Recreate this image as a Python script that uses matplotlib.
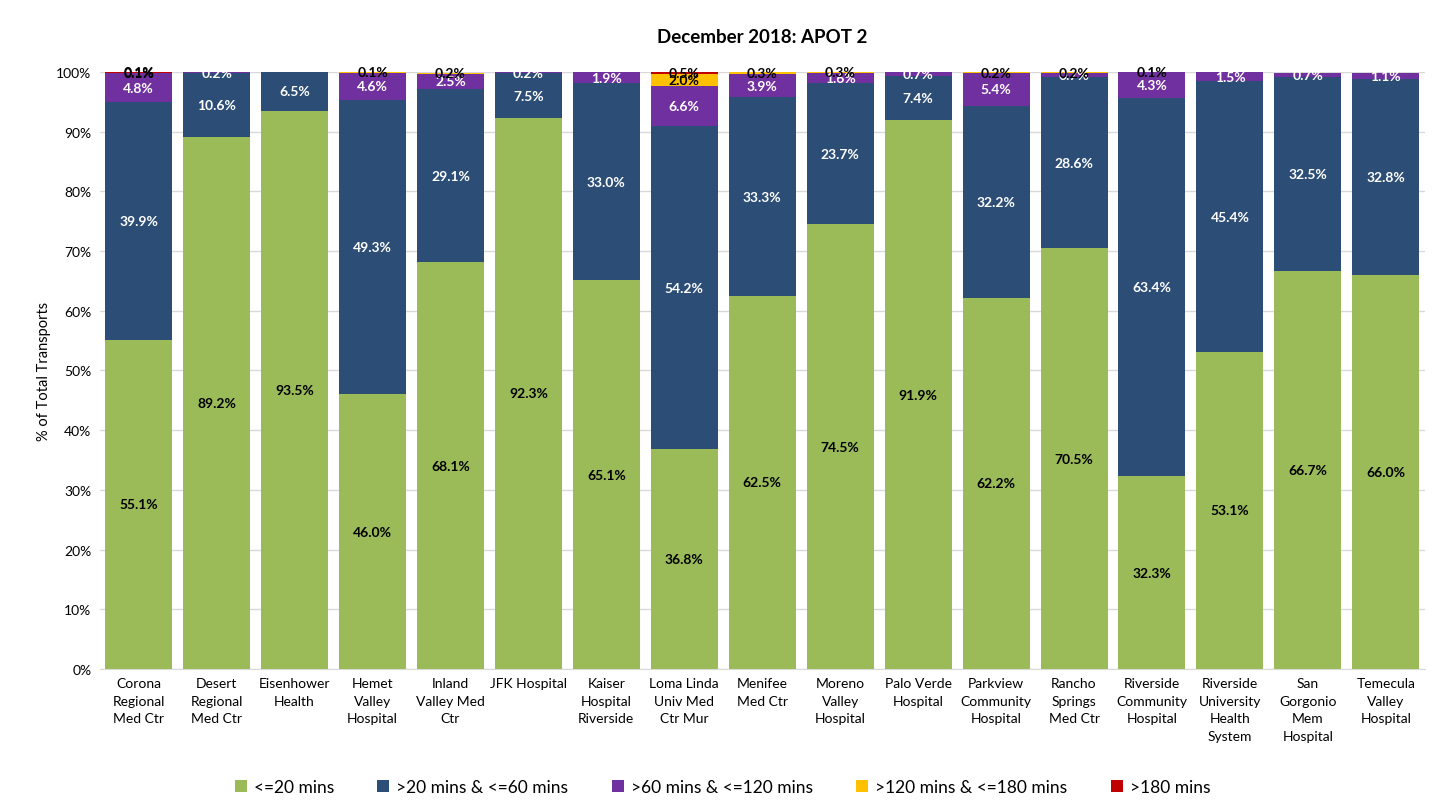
import matplotlib.pyplot as plt
import numpy as np

plt.rcParams["font.family"] = ["Lato", "DejaVu Sans"]

HOSPITALS = [
    "Corona\nRegional\nMed Ctr", "Desert\nRegional\nMed Ctr", "Eisenhower\nHealth",
    "Hemet\nValley\nHospital", "Inland\nValley Med\nCtr", "JFK Hospital",
    "Kaiser\nHospital\nRiverside", "Loma Linda\nUniv Med\nCtr Mur", "Menifee\nMed Ctr",
    "Moreno\nValley\nHospital", "Palo Verde\nHospital", "Parkview\nCommunity\nHospital",
    "Rancho\nSprings\nMed Ctr", "Riverside\nCommunity\nHospital",
    "Riverside\nUniversity\nHealth\nSystem", "San\nGorgonio\nMem\nHospital",
    "Temecula\nValley\nHospital",
]

LE_20 = [55.1, 89.2, 93.5, 46.0, 68.1, 92.3, 65.1, 36.8, 62.5, 74.5, 91.9, 62.2, 70.5, 32.3, 53.1, 66.7, 66.0]
GT20_LE60 = [39.9, 10.6, 6.5, 49.3, 29.1, 7.5, 33.0, 54.2, 33.3, 23.7, 7.4, 32.2, 28.6, 63.4, 45.4, 32.5, 32.8]
GT60_LE120 = [4.8, 0.2, 0.0, 4.6, 2.5, 0.2, 1.9, 6.6, 3.9, 1.6, 0.7, 5.4, 0.7, 4.3, 1.5, 0.7, 1.1]
GT120_LE180 = [0.1, 0.0, 0.0, 0.1, 0.2, 0.0, 0.0, 2.0, 0.3, 0.3, 0.0, 0.2, 0.2, 0.1, 0.0, 0.0, 0.0]
GT180 = [0.1, 0.0, 0.0, 0.0, 0.0, 0.0, 0.0, 0.5, 0.0, 0.0, 0.0, 0.0, 0.0, 0.0, 0.0, 0.0, 0.0]

SERIES = [
    ("<=20 mins", LE_20, "#9BBB59", "black"),
    (">20 mins & <=60 mins", GT20_LE60, "#2C4D75", "white"),
    (">60 mins & <=120 mins", GT60_LE120, "#7030A0", "white"),
    (">120 mins & <=180 mins", GT120_LE180, "#FFC000", "black"),
    (">180 mins", GT180, "#C00000", "black"),
]

fig = plt.figure(figsize=(14.45, 8.12), dpi=100)
ax = fig.add_axes([0.069, 0.175, 0.917, 0.735])

x = np.arange(len(HOSPITALS))
bottom = np.zeros(len(HOSPITALS))
for name, vals, color, tcolor in SERIES:
    vals = np.array(vals)
    ax.bar(x, vals, 0.86, bottom=bottom, color=color, label=name, zorder=3)
    for xi, b, v in zip(x, bottom, vals):
        if v > 0:
            ax.text(xi, b + v / 2, f"{v:.1f}%", ha="center", va="center",
                    color=tcolor, fontsize=10, fontweight="bold", zorder=4)
    bottom += vals

ax.set_xlim(-0.5, len(HOSPITALS) - 0.5)
ax.set_ylim(0, 100)
ax.set_yticks(np.arange(0, 101, 10))
ax.set_yticklabels([f"{t}%" for t in range(0, 101, 10)], fontsize=10)
ax.set_xticks(x)
ax.set_xticklabels(HOSPITALS, fontsize=10, va="top", linespacing=1.55)
ax.tick_params(length=0, pad=6)
ax.yaxis.grid(True, color="#D9D9D9", lw=1, zorder=0)
for s in ["top", "right", "left"]:
    ax.spines[s].set_visible(False)
ax.spines["bottom"].set_color("#D9D9D9")
ax.set_ylabel("% of Total Transports", fontsize=10.5)
ax.set_title("December 2018: APOT 2", fontsize=13.5, fontweight="bold", pad=22)

fig.legend(loc="lower center", ncol=5, frameon=False, fontsize=12.5,
           bbox_to_anchor=(0.5, 0.0), handlelength=0.7, handleheight=0.7,
           columnspacing=2.5, handletextpad=0.4)

fig.savefig("out.png", dpi=100)
